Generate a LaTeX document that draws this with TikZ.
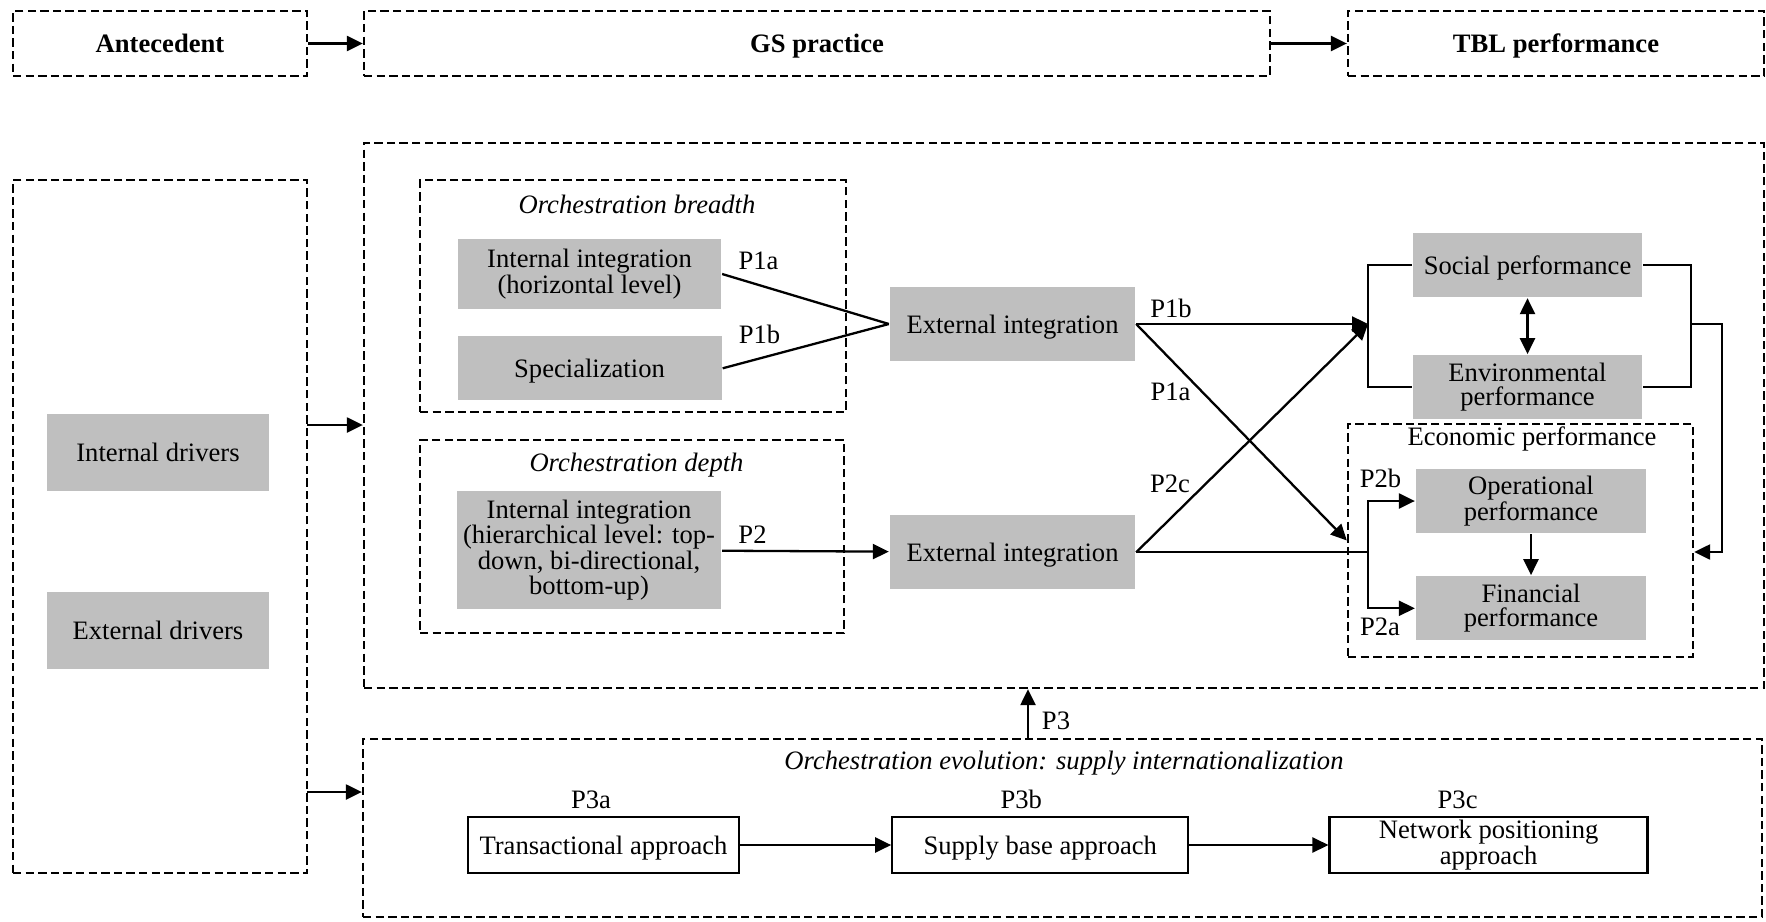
\documentclass[tikz,border=0pt]{standalone}
\usepackage{fontspec}
\setmainfont{Liberation Serif}
\usetikzlibrary{positioning}
\usetikzlibrary{arrows.meta}

\definecolor{boxgray}{RGB}{191,191,191}
\newcommand{\figfont}{\fontsize{13.3}{11.8}\selectfont}

\begin{document}
\begin{tikzpicture}
[
x=0.5pt, y=-0.5pt,
node distance=5mm and 5mm,
>={Triangle[length=8pt,width=7.5pt]},
line width=1.15pt,
font=\figfont,
flat/.style={text height=9.1pt, text depth=0pt},
frame/.style={draw, dash pattern=on 4.2pt off 2.1pt, inner sep=0pt},
head/.style={frame, flat, minimum height=32.5pt, font=\figfont\bfseries},
grey/.style={fill=boxgray, inner sep=0pt, align=center, minimum height=32pt},
stage/.style={draw, inner sep=0pt, align=center, minimum height=28pt},
title/.style={inner sep=0pt, font=\figfont\itshape},
plabel/.style={inner sep=0pt},
]
\useasboundingbox (0,0) rectangle (1766,921);

\node (ante) [head, minimum width=147pt] at (160,43.5) {Antecedent};
\node (gsp) [head, minimum width=453pt] at (817,43.5) {GS practice};
\node (tbl) [head, minimum width=208pt] at (1556,43.5) {TBL performance};

\node (drivers) [frame, minimum width=147pt, minimum height=346.5pt] at (160,526.5) {};
\node (intdrv) [grey, flat, minimum width=111pt, minimum height=38.5pt] at (158,452.5) {Internal drivers};
\node (extdrv) [grey, flat, minimum width=111pt, minimum height=38.5pt, below=49.5pt of intdrv] {External drivers};

\node (gsbox) [frame, minimum width=700pt, minimum height=272.5pt] at (1064,415.5) {};

\node (breadth) [frame, minimum width=213pt, minimum height=116pt] at (633,296) {};
\node (breadthT) [title] at (637,204) {Orchestration breadth};
\node (horiz) [grey, minimum width=131.5pt, minimum height=35pt] at (589.5,274) {Internal integration\\(horizontal level)};
\node (special) [grey, flat, minimum width=132pt, below=12.5pt of horiz] {Specialization};
\node (extA) [grey, flat, minimum width=122.5pt, minimum height=37pt] at (1012.5,324) {External integration};

\node (depth) [frame, minimum width=212pt, minimum height=96.5pt] at (632,536.5) {};
\node (depthT) [title] at (636.5,465.5) {Orchestration depth};
\node (hier) [grey, minimum width=132pt, minimum height=59pt, font=\fontsize{13.3}{12.8}\selectfont] at (589,550) {Internal integration\\(hierarchical level: top-\\down, bi-directional,\\bottom-up)};
\node (extB) [grey, flat, minimum width=122.5pt, minimum height=37pt, below=76pt of extA] {External integration};

\node (social) [grey, flat, minimum width=114.5pt] at (1527.5,265) {Social performance};
\node (env) [grey, minimum width=114.5pt, below=28pt of social] {Environmental\\performance};
\node (econ) [frame, minimum width=172.5pt, minimum height=116.5pt] at (1520.5,540.5) {};
\node (econT) [plabel] at (1532,439) {Economic performance};
\node (oper) [grey, minimum width=115pt] at (1531,501) {Operational\\performance};
\node (fin) [grey, minimum width=115pt, below=20.5pt of oper] {Financial\\performance};

\node (evo) [frame, minimum width=699.5pt, minimum height=89pt] at (1062.5,828) {};
\node (evoT) [title] at (1064,763) {Orchestration evolution: supply internationalization};
\node (trans) [stage, flat, minimum width=135.5pt] at (603.5,845) {Transactional approach};
\node (supply) [stage, flat, minimum width=148pt, right=75.5pt of trans] {Supply base approach};
\node (network) [stage, minimum width=159pt, right=69.5pt of supply] {Network positioning\\approach};

\node (l1a) [plabel] at (758.5,261) {P1a};
\node (l1b) [plabel] at (759.5,334.5) {P1b};
\node (l2) [plabel] at (752.5,534.5) {P2};
\node (r1b) [plabel] at (1171,308.5) {P1b};
\node (r1a) [plabel] at (1170.5,391.5) {P1a};
\node (r2c) [plabel] at (1170,483.5) {P2c};
\node (r2b) [plabel] at (1380.5,478.5) {P2b};
\node (r2a) [plabel] at (1380,626.5) {P2a};
\node (l3) [plabel] at (1056,720.5) {P3};
\node (l3a) [plabel, above=2.8pt of trans, xshift=-6.25pt] {P3a};
\node (l3b) [plabel, above=2.8pt of supply, xshift=-9.5pt] {P3b};
\node (l3c) [plabel, above=2.8pt of network, xshift=-15.5pt] {P3c};

\coordinate (lb) at (1368,324);
\coordinate (rb) at (1691,324);
\coordinate (in1) at (307,425);
\coordinate (in2) at (307,792);

\draw [->] (ante) -- (gsp);
\draw [->] (gsp) -- (tbl);
\draw [->] (in1) -- (in1 -| gsbox.west);
\draw [->] (in2) -- (in2 -| evo.west);
\foreach \a in {horiz, special}
{
\draw (\a.east) -- (extA.west);
}
\draw [->] (hier) -- (extB);
\foreach \a in {extA, extB}
{
\draw [->] (\a.east) -- (lb);
}
\draw [->] (extA.east) -- (econ.west);
\draw (extB.east) -- (extB.east -| lb);
\foreach \a in {oper, fin}
{
\draw [->] (extB.east -| lb) |- (\a.west);
}
\draw (social.west) -| (lb) |- (env.west);
\draw (social.east) -| (rb) |- (env.east);
\draw [->] (rb) -- ++(31,0) |- ([yshift=-5.75pt]econ.east);
\draw [<->] (social) -- (env);
\draw [->] (oper) -- (fin);
\foreach \a / \b in {trans/supply, supply/network}
{
\draw [->] (\a.east) -- (\b.west);
}
\draw [->] ([xshift=-17.25pt]evo.north) -- ([xshift=-17.25pt]evo.north |- gsbox.south);
\end{tikzpicture}
\end{document}
